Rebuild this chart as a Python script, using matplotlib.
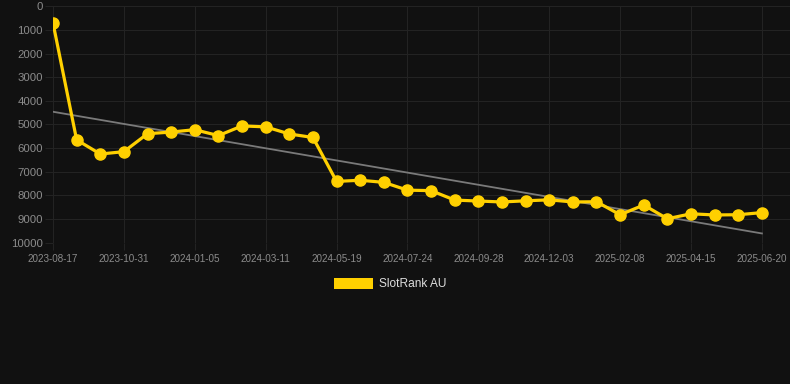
import numpy as np
import matplotlib
matplotlib.use('Agg')
import matplotlib.pyplot as plt
from matplotlib.patches import Patch

plt.rcParams['font.family'] = ['Liberation Sans', 'DejaVu Sans']

# rank values, one point per sample (y axis is inverted: lower rank = higher)
rank_au = [700, 5650, 6250, 6150, 5390, 5320, 5220, 5470, 5060, 5100, 5400,
           5550, 7410, 7360, 7450, 7780, 7800, 8200, 8240, 8280, 8230, 8190,
           8280, 8270, 8820, 8410, 8990, 8780, 8830, 8820, 8730]

# labels shown every third sample
tick_labels = ['2023-08-17', '2023-10-31', '2024-01-05', '2024-03-11',
               '2024-05-19', '2024-07-24', '2024-09-28', '2024-12-03',
               '2025-02-08', '2025-04-15', '2025-06-20']

bg = '#111111'
grid_c = '#232323'
yellow = '#ffd000'

fig = plt.figure(figsize=(7.9, 3.84), dpi=100, facecolor=bg)
ax = fig.add_axes([53 / 790, 1 - 242.6 / 384, 737 / 790, 236.2 / 384])
ax.set_facecolor(bg)

x = np.arange(len(rank_au))
ax.plot(x, rank_au, color=yellow, lw=2.3, marker='o', ms=8,
        zorder=3, solid_joinstyle='round')

# linear trend
k, b = np.polyfit(x, rank_au, 1)
ax.plot([x[0], x[-1]], [k * x[0] + b, k * x[-1] + b],
        color='#7a7a7a', lw=1.3, zorder=2)

ax.set_xlim(0, 737 / 23.63)
ax.set_ylim(10000, 0)
ax.set_yticks(range(0, 10001, 1000))
ax.set_xticks(x[::3])
ax.set_xticklabels(tick_labels)

ax.grid(True, color=grid_c, lw=0.75)
ax.set_axisbelow(True)
for s in ax.spines.values():
    s.set_visible(False)

ax.tick_params(axis='y', colors=grid_c, labelcolor='#8c8c8c', labelsize=8.2,
               length=5.8, width=0.75, pad=1.5)
ax.tick_params(axis='x', colors=grid_c, labelcolor='#8c8c8c', labelsize=7.1,
               length=5, width=0.75, pad=3)

fig.legend(handles=[Patch(facecolor=yellow, edgecolor='none', label='SlotRank AU')],
           loc='center', bbox_to_anchor=(0.494, 0.26), frameon=False,
           fontsize=8.6, labelcolor='#dddddd', handlelength=3.33,
           handleheight=1.0, handletextpad=0.5)

fig.savefig('out.png', dpi=100, facecolor=bg)
